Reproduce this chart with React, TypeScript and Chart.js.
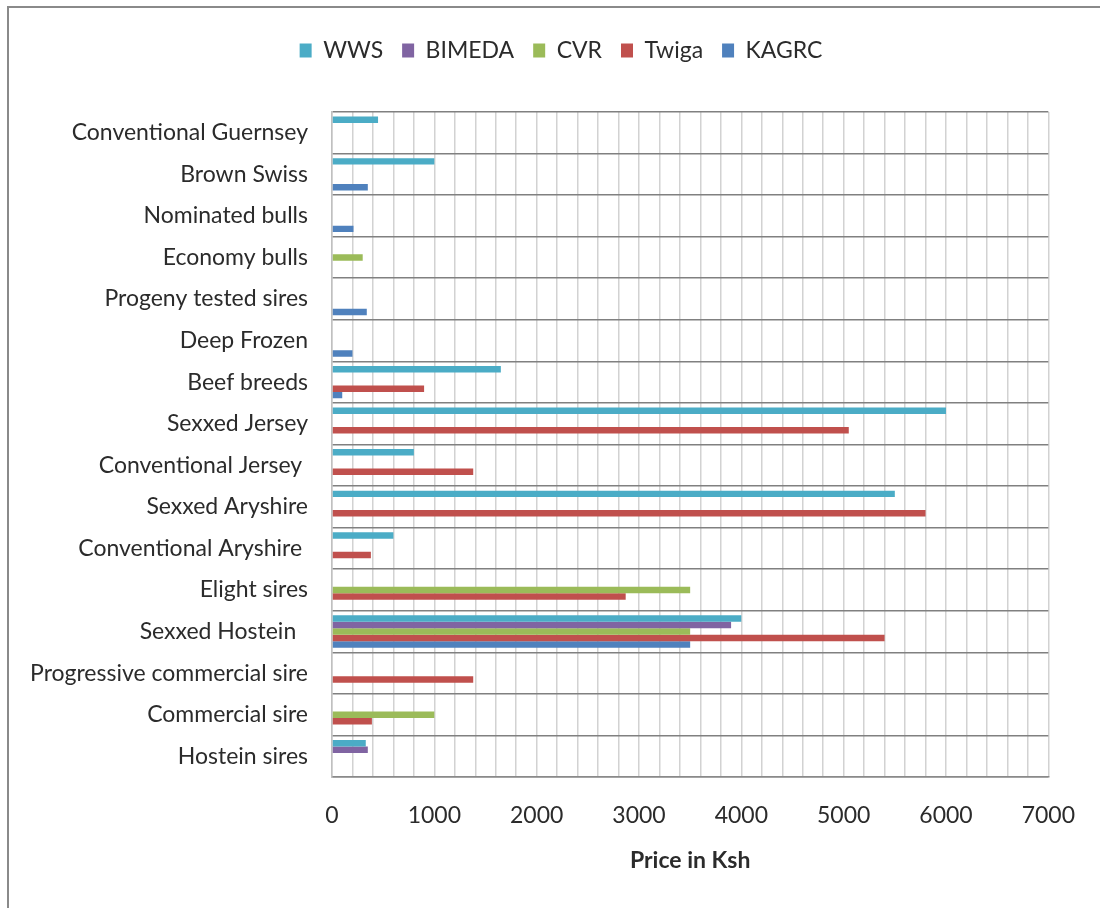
import React, { useEffect, useRef } from "react";
import { Chart, registerables } from "chart.js";

Chart.register(...registerables);

// Categories, top to bottom
const categories = [
  "Conventional Guernsey",
  "Brown Swiss",
  "Nominated bulls",
  "Economy bulls",
  "Progeny tested sires",
  "Deep Frozen",
  "Beef breeds",
  "Sexxed Jersey",
  "Conventional Jersey ",
  "Sexxed Aryshire",
  "Conventional Aryshire ",
  "Elight sires",
  "Sexxed Hostein  ",
  "Progressive commercial sire",
  "Commercial sire",
  "Hostein sires",
];

const seriesNames = ["WWS", "BIMEDA", "CVR", "Twiga", "KAGRC"];
const seriesColors = ["#4BACC6", "#8064A2", "#9BBB59", "#C0504D", "#4F81BD"];

const wws = [450, 1000, null, null, null, null, 1650, 6000, 800, 5500, 600, null, 4000, null, null, 330];
const bimeda = [null, null, null, null, null, null, null, null, null, null, null, null, 3900, null, null, 350];
const cvr = [null, null, null, 300, null, null, null, null, null, null, null, 3500, 3500, null, 1000, null];
const twiga = [null, null, null, null, null, null, 900, 5050, 1380, 5800, 380, 2870, 5400, 1380, 390, null];
const kagrc = [null, 350, 210, null, 340, 200, 100, null, null, null, null, null, 3500, null, null, null];

const seriesValues = [wws, bimeda, cvr, twiga, kagrc];

const xMin = 0;
const xMax = 7000;
const xGridStep = 200;
const xLabelStep = 1000;
const xTitle = "Price in Ksh";

const FONT = "Lato";
const TEXT = "#2b2b2b";

const legendShift = {
  id: "legendShift",
  afterLayout(chart: any) {
    const l = chart.legend;
    if (l) {
      l.left = 70;
      l.width = l.right - l.left;
    }
  },
};

export default function App() {
  const ref = useRef<HTMLCanvasElement>(null);

  useEffect(() => {
    if (!ref.current) return;
    const chart = new Chart(ref.current, {
      type: "bar",
      data: {
        labels: categories,
        datasets: seriesNames.map((name, i) => ({
          label: name,
          data: seriesValues[i],
          backgroundColor: seriesColors[i],
          borderWidth: 0,
          categoryPercentage: 0.78,
          barPercentage: 1.0,
        })),
      },
      plugins: [legendShift],
      options: {
        indexAxis: "y",
        responsive: false,
        animation: false,
        layout: { padding: { top: 20, left: 12, right: 48, bottom: 0 } },
        plugins: {
          tooltip: { enabled: false },
          legend: {
            display: true,
            position: "top",
            labels: {
              font: { family: FONT, size: 23 },
              color: TEXT,
              boxWidth: 12,
              boxHeight: 14,
              padding: 19,
            },
          },
          title: {
            display: true,
            text: " ",
            weight: 500,
            font: { size: 10, lineHeight: 1 },
            padding: { top: 0, bottom: 30 },
          } as any,
        },
        scales: {
          x: {
            type: "linear",
            min: xMin,
            max: xMax,
            grid: {
              color: "#d2d2d2",
              lineWidth: 1.5,
              drawTicks: false,
            },
            border: { display: true, color: "#8a8a8a", width: 1.5 },
            ticks: {
              stepSize: xGridStep,
              autoSkip: false,
              maxRotation: 0,
              padding: 25,
              color: TEXT,
              font: { family: FONT, size: 23 },
              callback: (v: any) => (Number(v) % xLabelStep === 0 ? String(v) : ""),
            },
            title: {
              display: true,
              text: xTitle,
              color: TEXT,
              font: { family: FONT, size: 23, weight: "bold" },
              padding: { top: 0, bottom: 34 },
            },
            afterFit: (scale: any) => {
              scale.height = 131;
            },
          },
          y: {
            type: "category",
            grid: {
              color: "#808080",
              lineWidth: 1.6,
              drawTicks: false,
              offset: true,
            },
            border: { display: true, color: "#c0c0c0", width: 1.5 },
            ticks: {
              autoSkip: false,
              padding: 24,
              color: TEXT,
              font: { family: FONT, size: 23 },
            },
            afterFit: (scale: any) => {
              scale.width = 320;
            },
          },
        },
      },
    });

    const fonts = (document as any).fonts;
    if (fonts && fonts.load) {
      Promise.all([fonts.load(`23px ${FONT}`), fonts.load(`bold 23px ${FONT}`)]).then(
        () => chart.update(),
        () => {}
      );
    }
    return () => chart.destroy();
  }, []);

  return (
    <div
      style={{
        position: "absolute",
        left: 0,
        top: 0,
        width: 1100,
        height: 908,
        overflow: "hidden",
        background: "#ffffff",
      }}
    >
      <div
        style={{
          position: "absolute",
          left: 7,
          top: 6,
          width: 1200,
          height: 1000,
          border: "2px solid #8a8a8a",
          boxSizing: "border-box",
        }}
      />
      <canvas
        ref={ref}
        width={1100}
        height={908}
        style={{ position: "absolute", left: 0, top: 0, width: 1100, height: 908 }}
      />
    </div>
  );
}
